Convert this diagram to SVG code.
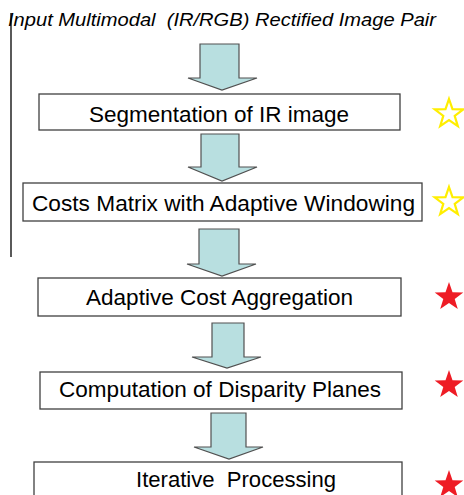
<svg xmlns="http://www.w3.org/2000/svg" width="464" height="495" viewBox="0 0 464 495">
<defs>
<style>
.box{fill:#fff;stroke:#404040;stroke-width:1.3}
.t{font-family:"Liberation Sans",Arial,sans-serif;font-size:22px;fill:#000;text-anchor:middle}
.title{font-family:"Liberation Sans",Arial,sans-serif;font-size:18px;font-style:italic;fill:#000}
.arr{fill:#b8dfe0;stroke:#505050;stroke-width:1.2;stroke-linejoin:miter}
.so{fill:none;stroke:#ffee00;stroke-width:2.2}
.sf{fill:#ee1c25;stroke:none}
</style>
<path id="star" d="M0,-15 L3.5,-4.8 L14.3,-4.6 L5.7,1.9 L8.8,12.1 L0,6 L-8.8,12.1 L-5.7,1.9 L-14.3,-4.6 L-3.5,-4.8 Z"/>
</defs>
<rect width="464" height="495" fill="#fff"/>
<line x1="11" y1="13" x2="11" y2="257" stroke="#000" stroke-width="1.3"/>
<text class="title" x="8" y="26" textLength="428" lengthAdjust="spacingAndGlyphs" xml:space="preserve">Input Multimodal  (IR/RGB) Rectified Image Pair</text>
<g id="connectors">
<path class="arr" d="M200,44 H239 V78 H257 L222,90 L188,78 H200 Z"/>
<path class="arr" d="M201,134 H239 V167 H257 L222,181 L188,167 H201 Z"/>
<path class="arr" d="M199,229 H239 V264 H256 L222,276 L187,264 H199 Z"/>
<path class="arr" d="M212,323 H244 V357 H261 L227,368 L192,357 H212 Z"/>
<path class="arr" d="M211,413 H246 V447 H263 L229,459 L194,447 H211 Z"/>
</g>
<g id="n1">
<rect class="box" x="39" y="94" width="361" height="36"/>
<text class="t" x="219" y="122" textLength="260" lengthAdjust="spacingAndGlyphs">Segmentation of IR image</text>
<use href="#star" class="so" x="449" y="114"/>
</g>
<g id="n2">
<rect class="box" x="23" y="183" width="399" height="38"/>
<text class="t" x="223.5" y="211" textLength="383" lengthAdjust="spacingAndGlyphs">Costs Matrix with Adaptive Windowing</text>
<use href="#star" class="so" x="449" y="202"/>
</g>
<g id="n3">
<rect class="box" x="38" y="278" width="363" height="38"/>
<text class="t" x="219.5" y="305" textLength="267" lengthAdjust="spacingAndGlyphs">Adaptive Cost Aggregation</text>
<use href="#star" class="sf" x="449" y="297"/>
</g>
<g id="n4">
<rect class="box" x="40" y="372" width="362" height="37"/>
<text class="t" x="220" y="397" textLength="322" lengthAdjust="spacingAndGlyphs">Computation of Disparity Planes</text>
<use href="#star" class="sf" x="449" y="385"/>
</g>
<g id="n5">
<rect class="box" x="34" y="462" width="368" height="40"/>
<text class="t" x="236" y="487" textLength="200" lengthAdjust="spacingAndGlyphs" xml:space="preserve">Iterative  Processing</text>
<use href="#star" class="sf" x="449" y="485"/>
</g>
</svg>
